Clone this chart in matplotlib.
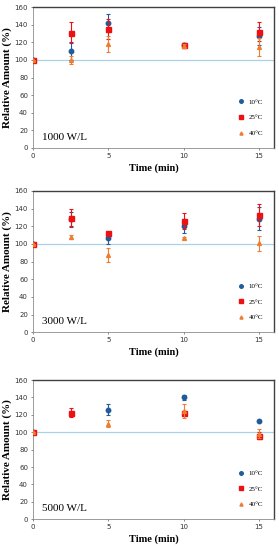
import numpy as np
import matplotlib
matplotlib.use('Agg')
from matplotlib import pyplot as plt

# tiempos (min)
t = [0, 2.5, 5, 10, 15]
temps = ['10\u00b0C', '25\u00b0C', '40\u00b0C']
powers = ['1000 W/L', '3000 W/L', '5000 W/L']

# 1000 W/L
p1_10 = [100, 110, 142.5, 117, 127]
p1_10e = [0, 10, 10, 2, 10]
p1_25 = [100, 131, 135.5, 117, 132]
p1_25e = [0, 12, 11.5, 2, 11]
p1_40 = [100, 100, 118, 116, 114.5]
p1_40e = [0, 5, 9, 2, 10.5]

# 3000 W/L
p2_10 = [100, 128, 106.5, 120, 128.5]
p2_10e = [0, 8, 7, 8, 13]
p2_25 = [100, 129.5, 112.3, 125.8, 132.3]
p2_25e = [0, 10, 1.5, 9, 12.5]
p2_40 = [100, 107.8, 87.5, 106.5, 100.5]
p2_40e = [0, 2.5, 8, 1.5, 8.5]

# 5000 W/L
p3_10 = [100, 123, 126, 140, 112.5]
p3_10e = [0, 3, 6, 2.5, 1]
p3_25 = [100, 122.5, 126, 122, 96]
p3_25e = [0, 5.5, 3, 2, 4]
p3_40 = [100, 122.5, 110, 124.5, 98.5]
p3_40e = [0, 3, 4.5, 8, 5.5]

series = [
    [(p1_10, p1_10e), (p1_25, p1_25e), (p1_40, p1_40e)],
    [(p2_10, p2_10e), (p2_25, p2_25e), (p2_40, p2_40e)],
    [(p3_10, p3_10e), (p3_25, p3_25e), (p3_40, p3_40e)],
]
# puntos visibles (5000 W/L: solo 25C a 2.5 min, sin 25C a 5 min)
shown = [
    [[1]*5, [1]*5, [1]*5],
    [[1]*5, [1]*5, [1]*5],
    [[1, 0, 1, 1, 1], [1, 1, 0, 1, 1], [1, 0, 1, 1, 1]],
]

colors = ['#1f5c99', '#ee1111', '#ed7d31']
markers = ['o', 's', '^']
msizes = [3.2, 3.6, 2.8]
order = [2, 0, 1]  # orden de dibujo: naranja, azul, rojo encima

fig = plt.figure(figsize=(2.79, 5.5), dpi=100)
boxes = [[0.118, 0.731, 0.864, 0.256],
         [0.118, 0.396, 0.864, 0.257],
         [0.118, 0.056, 0.864, 0.253]]
serif = 'Liberation Serif'

for k in range(3):
    ax = fig.add_axes(boxes[k])
    ax.axhline(100, color='#a9d2ea', lw=0.9, zorder=1)
    handles = [None]*3
    for i in order:
        y, e = series[k][i]
        m = np.array(shown[k][i], bool)
        tt = np.array(t)[m]
        yy = np.array(y)[m]
        ee = np.array(e)[m]
        h = ax.errorbar(tt, yy, yerr=ee, fmt=markers[i], color=colors[i],
                        ms=msizes[i], capsize=1.2, elinewidth=0.8, capthick=0.8,
                        zorder=3+i)
        handles[i] = h
    ax.set_xlim(0, 16)
    ax.set_ylim(0, 160)
    ax.set_xticks([0, 5, 10, 15])
    ax.set_yticks(np.arange(0, 161, 20))
    ax.tick_params(labelsize=5, length=1.5, width=0.5, colors='#595959',
                   labelcolor='#333333', pad=2)
    for s in ['top', 'right']:
        ax.spines[s].set_color('#404040')
        ax.spines[s].set_linewidth(1.0)
    for s in ['left', 'bottom']:
        ax.spines[s].set_color('#8c8c8c')
        ax.spines[s].set_linewidth(0.6)
    ax.set_xlabel('Time (min)', fontsize=7.5, fontweight='bold', family=serif,
                  labelpad=3)
    ax.set_ylabel('Relative Amount (%)', fontsize=8, fontweight='bold',
                  family=serif, labelpad=2)
    ax.text(0.037, 0.075, powers[k], transform=ax.transAxes, fontsize=8,
            family=serif, va='center')
    lg = ax.legend([h[0] for h in handles], temps, loc='lower right',
                   frameon=False, prop={'family': serif, 'size': 5},
                   handletextpad=0.1, labelspacing=1.4, markerscale=0.8,
                   bbox_to_anchor=(0.98, 0.04))

plt.savefig('out.png', dpi=100)
